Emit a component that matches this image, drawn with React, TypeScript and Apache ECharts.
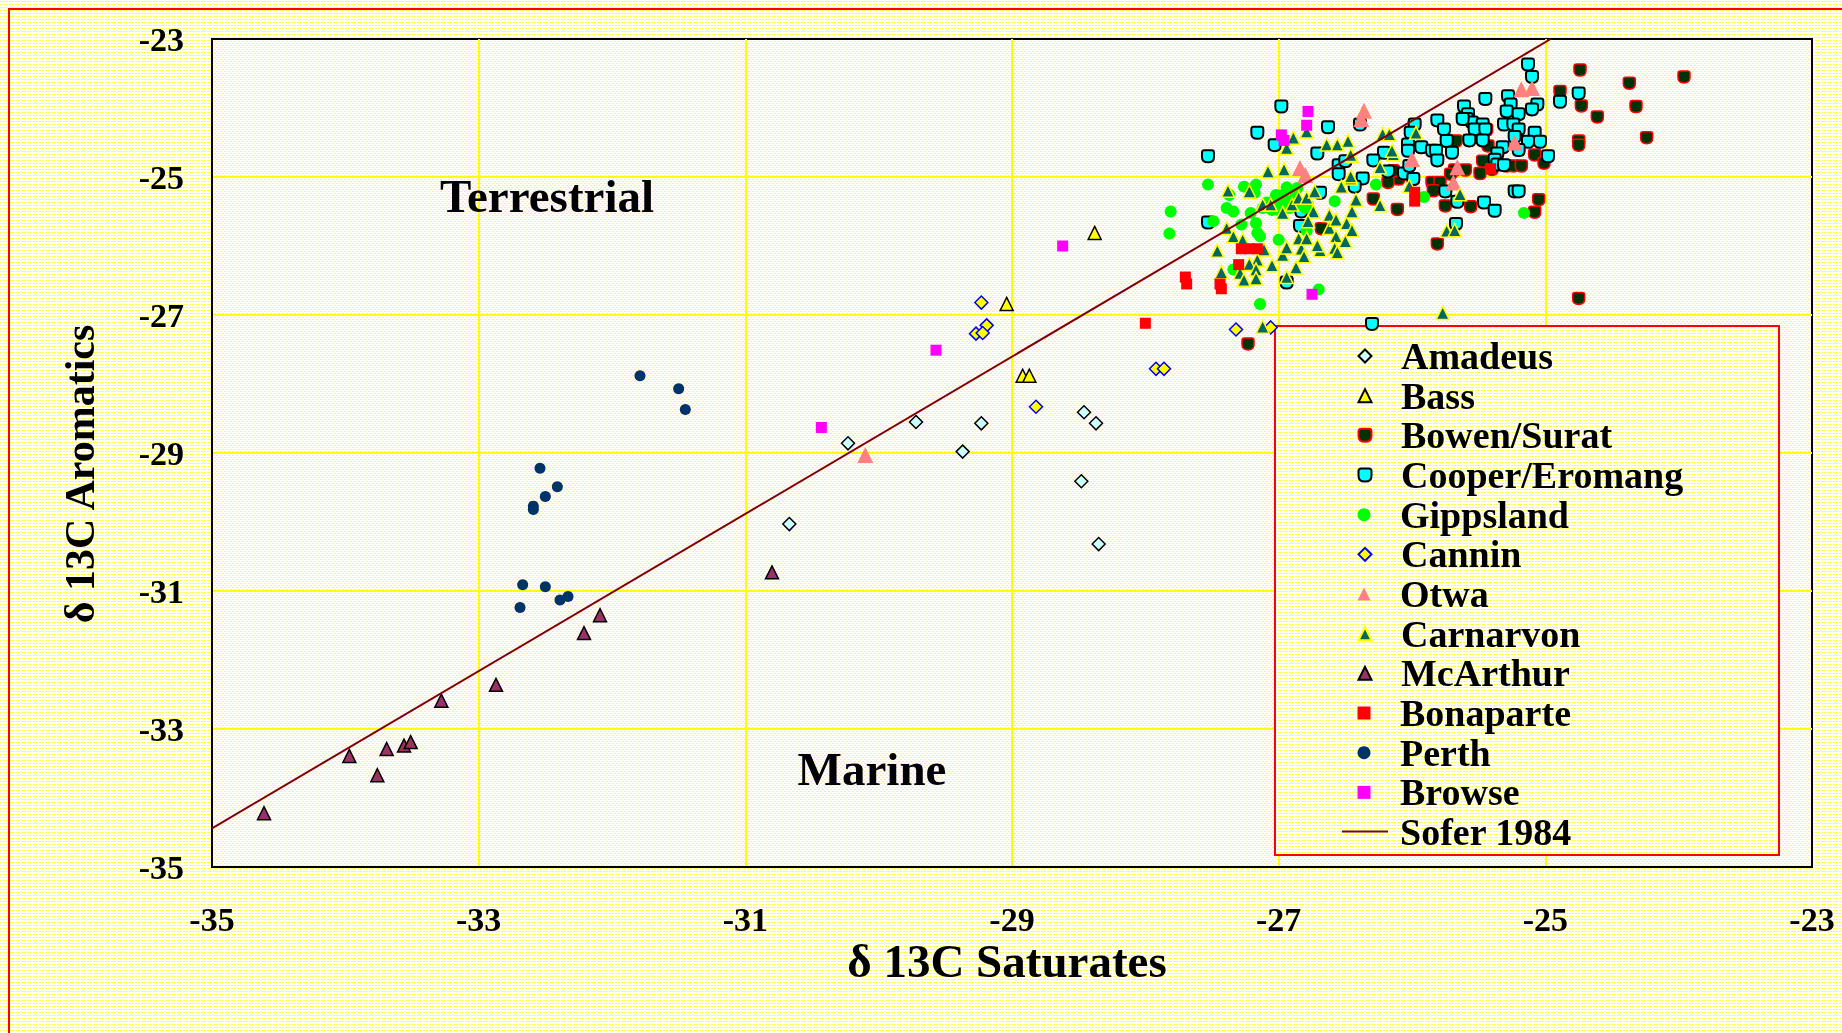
import React, { useEffect, useMemo, useRef } from "react";
import * as echarts from "echarts";

type P = [number, number];

const xMin = -35;
const xMax = -23;
const yMin = -35;
const yMax = -23;
const tickStep = 2;

const scatterNames = [
  "Amadeus", "Bass", "Bowen/Surat", "Cooper/Eromang", "Gippsland", "Cannin",
  "Otwa", "Carnarvon", "McArthur", "Bonaparte", "Perth", "Browse",
];
const lineName = "Sofer 1984";

const amadeus: P[] = [
  [-30.23, -28.86], [-29.72, -28.55], [-29.23, -28.57], [-29.37, -28.98], [-28.46, -28.41],
  [-28.37, -28.57], [-28.48, -29.41], [-28.35, -30.32], [-30.67, -30.03],
];

const bass: P[] = [
  [-29.04, -26.84], [-28.92, -27.88], [-28.87, -27.88], [-28.38, -25.81],
];

const bowen: P[] = [
  [-24.74, -23.45], [-24.89, -23.76], [-24.73, -23.97], [-24.61, -24.13], [-24.75, -24.48],
  [-24.75, -24.54], [-24.37, -23.64], [-24.32, -23.98], [-23.96, -23.55], [-24.24, -24.43],
  [-25.08, -24.68], [-25.01, -24.8], [-25.05, -25.33], [-25.08, -25.51], [-24.75, -26.76],
  [-25.29, -24.84], [-25.24, -24.84], [-25.18, -24.84], [-25.67, -24.48], [-25.43, -24.55],
  [-25.47, -24.77], [-25.4, -24.89], [-25.49, -24.95], [-25.6, -24.9], [-25.68, -24.9],
  [-25.71, -24.96], [-25.85, -25.08], [-25.79, -25.08], [-25.84, -25.2], [-26.1, -25.03],
  [-26.18, -25.08], [-26.14, -24.91], [-26.06, -24.96], [-26.29, -25.32], [-26.11, -25.47],
  [-25.75, -25.42], [-25.56, -25.43], [-25.81, -25.97], [-26.68, -25.75], [-27.23, -27.42],
  [-25.44, -24.32],
];

const cooper: P[] = [
  [-25.13, -23.37], [-25.1, -23.55], [-24.75, -23.79], [-24.89, -23.91], [-25.06, -23.95],
  [-25.1, -24.02], [-25.08, -24.36], [-25.04, -24.49], [-25.13, -24.49], [-25.2, -24.61],
  [-24.98, -24.7], [-25.23, -25.21], [-25.2, -25.21], [-25.45, -23.87], [-25.28, -23.83],
  [-25.26, -23.95], [-25.29, -24.05], [-25.2, -24.09], [-25.31, -24.24], [-25.24, -24.24],
  [-25.2, -24.31], [-25.23, -24.42], [-25.32, -24.57], [-25.36, -24.66], [-25.38, -24.75],
  [-25.36, -24.82], [-25.31, -24.83], [-25.61, -23.98], [-25.58, -24.09], [-25.59, -24.16],
  [-25.55, -24.21], [-25.62, -24.16], [-25.47, -24.24], [-25.53, -24.31], [-25.45, -24.31],
  [-25.81, -24.18], [-25.76, -24.31], [-25.98, -24.24], [-26.01, -24.36], [-25.74, -24.48],
  [-25.57, -24.47], [-25.47, -24.47], [-25.93, -24.57], [-25.85, -24.62], [-25.82, -24.62],
  [-25.7, -24.65], [-25.81, -24.76], [-26.03, -24.53], [-26.03, -24.62], [-26.06, -24.95],
  [-25.99, -25.03], [-26.18, -24.92], [-26.21, -24.65], [-26.29, -24.76], [-26.37, -25.02],
  [-26.43, -25.14], [-25.75, -25.21], [-25.66, -25.36], [-25.46, -25.37], [-25.38, -25.49],
  [-25.67, -25.68], [-26.39, -24.24], [-26.02, -24.84], [-26.98, -23.98], [-27.16, -24.36],
  [-27.03, -24.54], [-27.53, -24.7], [-26.71, -24.66], [-26.63, -24.28], [-26.55, -24.83],
  [-26.55, -24.96], [-26.5, -24.77], [-27.53, -25.66], [-26.84, -25.71], [-26.83, -25.5],
  [-26.69, -25.23], [-26.94, -26.53], [-26.3, -27.13],
];

const gippsland: P[] = [
  [-27.53, -25.11], [-27.37, -25.26], [-27.26, -25.14], [-27.17, -25.11], [-27.18, -25.23],
  [-27.39, -25.45], [-27.34, -25.5], [-27.21, -25.52], [-27.49, -25.64], [-27.28, -25.69],
  [-27.17, -25.67], [-27.14, -25.86], [-27.0, -25.91], [-26.79, -25.78], [-26.58, -25.35],
  [-26.94, -25.15], [-26.86, -25.16], [-27.09, -25.37], [-27.03, -25.33], [-27.0, -25.36],
  [-26.94, -25.35], [-26.89, -25.41], [-26.84, -25.37], [-27.0, -25.48], [-27.05, -25.48],
  [-27.07, -25.44], [-26.92, -25.45], [-26.88, -25.3], [-27.02, -25.26], [-26.97, -25.26],
  [-27.12, -25.45], [-26.8, -25.45], [-26.78, -25.4], [-26.7, -26.63], [-27.14, -26.84],
  [-27.34, -26.34], [-27.81, -25.5], [-27.82, -25.82], [-27.16, -25.81], [-26.27, -25.11],
  [-25.91, -25.29], [-25.16, -25.52],
];

const cannin: P[] = [
  [-29.23, -26.82], [-29.19, -27.15], [-29.27, -27.27], [-29.22, -27.26], [-28.82, -28.33],
  [-27.92, -27.78], [-27.86, -27.78], [-27.32, -27.21], [-27.06, -27.18],
];

const otwa: P[] = [
  [-30.1, -29.03], [-26.36, -24.04], [-26.38, -24.16], [-26.84, -24.87], [-26.8, -24.97],
  [-26.0, -24.74], [-25.66, -24.86], [-25.69, -25.08], [-25.23, -24.5], [-25.18, -23.73],
  [-25.1, -23.71],
];

const carnarvon: P[] = [
  [-27.08, -24.92], [-26.96, -24.89], [-27.38, -25.2], [-27.22, -25.21], [-27.12, -25.4],
  [-27.06, -25.4], [-26.97, -25.52], [-26.9, -25.4], [-26.85, -25.3], [-26.79, -25.3],
  [-26.73, -25.21], [-26.74, -25.5], [-26.78, -25.64], [-26.62, -25.55], [-26.62, -25.74],
  [-26.57, -25.62], [-26.49, -25.67], [-26.45, -25.77], [-26.57, -25.86], [-26.5, -25.93],
  [-26.45, -25.5], [-26.42, -25.33], [-26.53, -25.14], [-26.46, -25.02], [-26.45, -24.7],
  [-27.39, -25.74], [-27.34, -25.86], [-27.27, -25.91], [-27.46, -26.07], [-27.11, -26.05],
  [-27.16, -26.2], [-27.22, -26.26], [-27.17, -26.34], [-27.29, -26.39], [-27.26, -26.49],
  [-27.17, -26.47], [-27.43, -26.38], [-27.05, -26.28], [-26.97, -26.13], [-26.94, -26.02],
  [-26.87, -26.31], [-26.83, -26.04], [-26.81, -26.15], [-26.85, -25.89], [-26.79, -25.89],
  [-26.69, -26.06], [-26.71, -25.99], [-26.58, -26.03], [-26.56, -26.09], [-26.94, -26.45],
  [-26.89, -24.43], [-26.79, -24.34], [-26.94, -24.58], [-26.64, -24.53], [-26.56, -24.53],
  [-26.48, -24.48], [-26.46, -24.68], [-26.46, -24.99], [-26.22, -24.38], [-26.17, -24.38],
  [-25.97, -24.36], [-26.14, -24.67], [-26.15, -24.62], [-26.24, -24.86], [-26.02, -25.13],
  [-26.24, -25.41], [-25.64, -25.25], [-25.74, -25.78], [-25.68, -25.77], [-25.77, -26.97],
  [-27.12, -27.17],
];

const mcarthur: P[] = [
  [-34.61, -34.22], [-33.97, -33.39], [-33.76, -33.67], [-33.69, -33.29], [-33.56, -33.24],
  [-33.51, -33.19], [-33.28, -32.59], [-32.87, -32.36], [-32.21, -31.61], [-32.09, -31.35],
  [-30.8, -30.73],
];

const bonaparte: P[] = [
  [-28.0, -27.12], [-27.7, -26.45], [-27.69, -26.55], [-27.44, -26.55], [-27.43, -26.62],
  [-27.28, -26.04], [-27.22, -26.04], [-27.16, -26.04], [-27.3, -26.27], [-25.98, -25.22],
  [-25.98, -25.35], [-25.41, -24.88],
];

const perth: P[] = [
  [-31.79, -27.88], [-31.5, -28.07], [-31.45, -28.37], [-32.54, -29.22], [-32.41, -29.49],
  [-32.5, -29.63], [-32.59, -29.77], [-32.59, -29.82], [-32.67, -30.91], [-32.5, -30.94],
  [-32.39, -31.13], [-32.33, -31.08], [-32.69, -31.24],
];

const browse: P[] = [
  [-29.57, -27.51], [-30.43, -28.63], [-28.62, -26.0], [-26.78, -24.05], [-26.79, -24.25],
  [-26.98, -24.39], [-26.96, -24.47], [-26.75, -26.7],
];

const sofer: P[] = [
  [-35, -34.44], [-24.96, -23.0],
];

const FONT = "'Liberation Serif', 'Times New Roman', serif";
const SHIELD = "path://M2,0 H8 Q10,0 10,2 V5.5 Q10,10 5,10 Q0,10 0,5.5 V2 Q0,0 2,0 Z";

function makeTile(size: number, dots: number[][], bg: string, dot: string): HTMLCanvasElement {
  const c = document.createElement("canvas");
  c.width = size;
  c.height = size;
  const g = c.getContext("2d")!;
  g.fillStyle = bg;
  g.fillRect(0, 0, size, size);
  g.fillStyle = dot;
  dots.forEach(([x, y, w, h]) => g.fillRect(x, y, w, h));
  return c;
}

export default function App() {
  const ref = useRef<HTMLDivElement>(null);
  const tiles = useMemo(() => {
    const outer = makeTile(3, [[1, 1, 1, 1], [0, 1, 1, 1]], "#fffff4", "#ffff44");
    const inner = makeTile(4, [[0, 0, 2, 1], [2, 2, 2, 1]], "#fffff8", "#ffff3c");
    return { outer, inner, outerUrl: outer.toDataURL(), innerUrl: inner.toDataURL() };
  }, []);

  useEffect(() => {
    if (!ref.current) return;
    const chart = echarts.init(ref.current, undefined, { renderer: "svg" });
    const sc = (
      name: string, data: P[], symbol: string, size: number,
      color: string, borderColor: string, borderWidth: number
    ) => ({
      type: "scatter", name, data, symbol, symbolSize: size,
      itemStyle: { color, borderColor, borderWidth, opacity: 1 },
      emphasis: { disabled: true },
    });
    const axisCommon = {
      type: "value",
      interval: tickStep,
      axisLine: { show: true, onZero: false, lineStyle: { color: "#000", width: 2 } },
      axisTick: { show: false },
      splitLine: { show: true, showMinLine: false, showMaxLine: false, lineStyle: { color: "#ffff00", width: 2 } },
    };
    const legendText = { fontFamily: FONT, fontWeight: "bold", fontSize: 38, color: "#000", lineHeight: 38 };
    const rowStep = 39.67;
    const legends: any[] = scatterNames.map((name, i) => ({
      orient: "vertical", left: 1349.5, top: 329 + i * rowStep, itemWidth: 13, itemHeight: 13,
      padding: 0, selectedMode: false, data: [name],
      textStyle: { ...legendText, padding: [0, 0, 0, 24.5] },
    }));
    legends.push({
      orient: "vertical", left: 1334, top: 804.5, itemWidth: 46, itemHeight: 2,
      padding: 0, selectedMode: false, data: [{ name: lineName, icon: "rect" }],
      textStyle: { ...legendText, padding: [0, 0, 0, 7] },
    });
    const option: any = {
      animation: false,
      backgroundColor: "transparent",
      grid: {
        left: 204, top: 31, width: 1600, height: 828, show: true,
        borderColor: "#000", borderWidth: 2, backgroundColor: "transparent",
      },
      xAxis: {
        ...axisCommon, min: xMin, max: xMax,
        axisLabel: { fontFamily: FONT, fontWeight: "bold", fontSize: 34, lineHeight: 30, color: "#000", margin: 37 },
      },
      yAxis: {
        ...axisCommon, min: yMin, max: yMax,
        axisLabel: { fontFamily: FONT, fontWeight: "bold", fontSize: 34, color: "#000", margin: 28 },
      },
      legend: legends,
      graphic: [
        {
          type: "rect", z: 1, shape: { x: 1267, y: 318, width: 504, height: 529 },
          style: { fill: { image: tiles.outer, repeat: "repeat" }, stroke: "#ff0000", lineWidth: 2 },
        },
        {
          type: "text", x: 539, y: 188, z: 5,
          style: { text: "Terrestrial", fontFamily: FONT, fontWeight: "bold", fontSize: 47, fill: "#000", align: "center", verticalAlign: "middle" },
        },
        {
          type: "text", x: 864, y: 761, z: 5,
          style: { text: "Marine", fontFamily: FONT, fontWeight: "bold", fontSize: 47, fill: "#000", align: "center", verticalAlign: "middle" },
        },
        {
          type: "text", x: 999, y: 953, z: 5,
          style: { text: "δ 13C Saturates", fontFamily: FONT, fontWeight: "bold", fontSize: 47, lineHeight: 36, fill: "#000", align: "center", verticalAlign: "middle" },
        },
        {
          type: "text", x: 72, y: 466, z: 5, rotation: Math.PI / 2,
          style: { text: "δ 13C Aromatics", fontFamily: FONT, fontWeight: "bold", fontSize: 42, fill: "#000", align: "center", verticalAlign: "middle" },
        },
      ],
      series: [
        sc("Amadeus", amadeus, "diamond", 13, "#ccffff", "#000000", 1.5),
        sc("Bass", bass, "triangle", 13, "#ffff00", "#000000", 1.5),
        sc("Bowen/Surat", bowen, SHIELD, 12, "#003300", "#ff0000", 1.5),
        sc("Cooper/Eromang", cooper, SHIELD, 12, "#00ffff", "#000000", 2),
        sc("Gippsland", gippsland, "circle", 12, "#00ff00", "#00ff00", 0),
        sc("Cannin", cannin, "diamond", 13, "#ffff00", "#0000ff", 1.5),
        sc("Otwa", otwa, "triangle", 16, "#ff8080", "#ff8080", 0),
        sc("Carnarvon", carnarvon, "triangle", 13, "#006666", "#ffff00", 1.5),
        sc("McArthur", mcarthur, "triangle", 13, "#993366", "#000000", 1.5),
        sc("Bonaparte", bonaparte, "rect", 11, "#ff0000", "#ff0000", 0),
        sc("Perth", perth, "circle", 11, "#003366", "#003366", 0),
        sc("Browse", browse, "rect", 11, "#ff00ff", "#ff00ff", 0),
        {
          type: "line", name: lineName, data: sofer, symbol: "none", showSymbol: false,
          lineStyle: { color: "#800000", width: 2 }, itemStyle: { color: "#800000" },
          emphasis: { disabled: true },
        },
      ],
    };
    chart.setOption(option);
    return () => chart.dispose();
  }, [tiles]);

  return (
    <div style={{ position: "fixed", left: 0, top: 0, right: 0, bottom: 0, overflow: "hidden", backgroundImage: `url(${tiles.outerUrl})` }}>
      <div style={{ position: "absolute", left: 8, top: 8, width: 1850, height: 1040, borderLeft: "2px solid #ff0000", borderTop: "2px solid #ff0000", boxSizing: "border-box" }} />
      <div style={{ position: "absolute", left: 212, top: 39, width: 1600, height: 828, backgroundImage: `url(${tiles.innerUrl})` }} />
      <div ref={ref} style={{ position: "absolute", left: 8, top: 8, width: 1834, height: 1025 }} />
    </div>
  );
}
